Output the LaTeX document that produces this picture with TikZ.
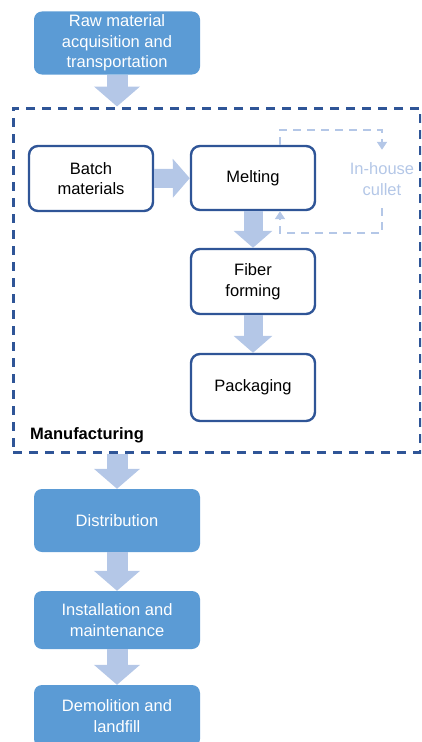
\documentclass[tikz,border=0pt]{standalone}
\usepackage{fontspec}
\setmainfont{Liberation Sans}
\usetikzlibrary{arrows.meta}
\definecolor{boxblue}{HTML}{5B9BD5}
\definecolor{arrblue}{HTML}{B4C7E7}
\definecolor{lineblue}{HTML}{2F5597}
\begin{document}
\begin{tikzpicture}[x=1pt,y=-1pt,
	txt/.style={font=\fontsize{16.5}{20.5}\selectfont,align=center},
	stage/.style={txt,fill=boxblue,text=white,rounded corners=8pt,minimum width=166pt},
	proc/.style={txt,draw=lineblue,line width=2.4pt,fill=white,rounded corners=9pt,minimum width=124pt},
	bigarr/.style={arrblue,line width=21pt,-{Triangle[width=45pt,length=20pt]}},
	smallarr/.style={arrblue,line width=19pt,-{Triangle[width=38pt,length=17pt]}},
	loopline/.style={arrblue,line width=2pt,dash pattern=on 8pt off 6pt,-{Triangle[width=10pt,length=8pt]}}]
	\clip (0,0) rectangle (421,742);
	\node[draw=lineblue,line width=3pt,dash pattern=on 9pt off 7pt,minimum width=407pt,minimum height=344pt] (manu) at (216.5,280) {};
	\node[txt,font=\fontsize{16.5}{20.5}\selectfont\bfseries] (manulabel) at (87,435) {Manufacturing};
	\node[stage,minimum height=62pt] (raw) at (117,43) {Raw material\\acquisition and\\transportation};
	\node[proc,minimum height=65pt] (batch) at (91,178.5) {Batch\\materials};
	\node[proc,minimum height=64pt] (melt) at (253,178) {Melting};
	\node[proc,minimum height=65pt] (fiber) at (253,281.5) {Fiber\\forming};
	\node[proc,minimum height=67pt] (pack) at (253,387.5) {Packaging};
	\node[txt,text=arrblue,minimum height=58pt,inner sep=0pt] (cullet) at (382,179) {In-house\\cullet};
	\node[stage,minimum height=63pt] (dist) at (117,520.5) {Distribution};
	\node[stage,minimum height=58pt] (inst) at (117,620) {Installation and\\maintenance};
	\node[stage,minimum height=62pt] (demo) at (117,716) {Demolition and\\landfill};
	\draw[bigarr] (raw.south) -- (raw.south |- manu.north);
	\draw[smallarr] (batch) -- (melt);
	\draw[smallarr] (melt) -- (fiber);
	\draw[smallarr] (fiber) -- (pack);
	\draw[loopline] ([xshift=27pt]melt.north) -- ++(0,-15) -| (cullet.north);
	\draw[loopline] (cullet.south) -- ++(0,25) -| ([xshift=27pt]melt.south);
	\draw[bigarr] (dist.north |- manu.south) -- (dist.north);
	\draw[bigarr] (dist) -- (inst);
	\draw[bigarr] (inst) -- (demo);
\end{tikzpicture}
\end{document}
